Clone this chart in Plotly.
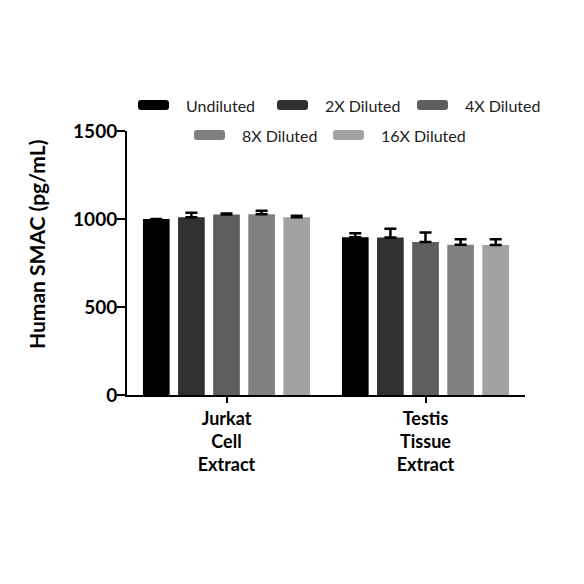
import plotly.graph_objects as go

categories = ["Jurkat<br>Cell<br>Extract", "Testis<br>Tissue<br>Extract"]
series_names = ["Undiluted", "2X Diluted", "4X Diluted", "8X Diluted", "16X Diluted"]
series_colors = ["#000000", "#313131", "#5e5e5e", "#808080", "#a2a2a2"]
values = [
    [1000, 897],
    [1010, 895],
    [1026, 870],
    [1027, 853],
    [1010, 852],
]
errors = [
    [None, 22],
    [25, 50],
    [5, 53],
    [20, 32],
    [9, 33],
]

FONT = "Century Gothic, URW Gothic, Lato, Noto Sans, sans-serif"

# page body has an 8px margin
OFF = 8
# plot area in reference pixels
L, R, T, B = 127, 525, 131, 395
W = H = 584

def px(x):
    return (x - L) / (R - L)

def py(y):
    return (B - y) / (B - T)

fig = go.Figure()
for name, color, vals, errs in zip(series_names, series_colors, values, errors):
    fig.add_trace(go.Bar(
        x=categories, y=vals, name=name,
        marker=dict(color=color, line=dict(width=0)),
        error_y=dict(type="data", array=errs, arrayminus=[0] * len(errs),
                     symmetric=False, color="#000000", thickness=2.5, width=6),
        showlegend=False,
    ))

# manual legend: rows of pill symbols + text
legend_rows = [[0, 1, 2], [3, 4]]
row_y = [105, 135]
row_x0 = [[138, 277, 417], [194, 333]]
shapes = []
annotations = []
for r, row in enumerate(legend_rows):
    for k, idx in enumerate(row):
        x0 = row_x0[r][k]
        x1 = x0 + 31
        yc = row_y[r]
        y0, y1 = yc - 5, yc + 5
        rad = 3
        path = (f"M {px(x0+rad)},{py(y0)} L {px(x1-rad)},{py(y0)} "
                f"Q {px(x1)},{py(y0)} {px(x1)},{py(y0+rad)} "
                f"L {px(x1)},{py(y1-rad)} Q {px(x1)},{py(y1)} {px(x1-rad)},{py(y1)} "
                f"L {px(x0+rad)},{py(y1)} Q {px(x0)},{py(y1)} {px(x0)},{py(y1-rad)} "
                f"L {px(x0)},{py(y0+rad)} Q {px(x0)},{py(y0)} {px(x0+rad)},{py(y0)} Z")
        shapes.append(dict(type="path", path=path, xref="paper", yref="paper",
                           fillcolor=series_colors[idx], line=dict(width=0)))
        annotations.append(dict(x=px(x1 + 15), y=py(yc), xref="paper", yref="paper",
                                text=series_names[idx], showarrow=False,
                                xanchor="left", yanchor="middle",
                                font=dict(family=FONT, size=16, color="#222222")))

annotations.append(dict(x=px(36), y=py(245), xref="paper", yref="paper",
                        text="<b>Human SMAC (pg/mL)</b>", showarrow=False,
                        textangle=-90, xanchor="center", yanchor="middle",
                        font=dict(family=FONT, size=21, color="#000000")))

fig.update_layout(
    width=W, height=H,
    margin=dict(l=L - OFF, r=W - R + OFF, t=T - OFF, b=H - B + OFF, pad=0),
    paper_bgcolor="white", plot_bgcolor="white",
    barmode="group", bargap=0.118, bargroupgap=0.24,
    shapes=shapes, annotations=annotations,
    font=dict(family=FONT, color="#000000"),
)
fig.update_yaxes(
    range=[0, 1500], tickvals=[0, 500, 1000, 1500],
    showgrid=False, zeroline=False,
    showline=True, linecolor="#000000", linewidth=2,
    ticks="outside", ticklen=8, tickwidth=2, tickcolor="#000000",
    ticklabelstandoff=-4,
    tickfont=dict(family=FONT, size=19, color="#000000", weight="bold"),
)
fig.update_xaxes(
    showgrid=False, showline=True, linecolor="#000000", linewidth=2,
    ticks="outside", ticklen=6, tickwidth=2, tickcolor="#000000",
    tickfont=dict(family=FONT, size=18, color="#000000", weight="bold"),
)

fig.write_html("out.html")
